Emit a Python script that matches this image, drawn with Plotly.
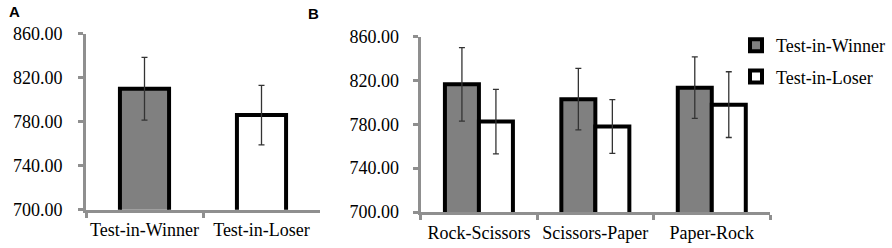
import plotly.graph_objects as go

# Panel A data
a_categories = ["Test-in-Winner", "Test-in-Loser"]
a_means = [810.0, 786.0]
a_errors = [28.5, 27.0]

# Panel B data
b_categories = ["Rock-Scissors", "Scissors-Paper", "Paper-Rock"]
b_winner = [816.5, 803.0, 813.5]
b_winner_err = [33.5, 28.0, 28.0]
b_loser = [782.5, 778.0, 798.0]
b_loser_err = [29.5, 24.5, 30.0]

y_ticks = [700, 740, 780, 820, 860]
y_ticktext = ["700.00", "740.00", "780.00", "820.00", "860.00"]

W, H = 892, 248
GRAY = "#808080"
AXIS = "#8f8f8f"
ERR = "#333333"
FONT = "Liberation Serif"

fig = go.Figure()

fig.add_trace(go.Bar(
    x=a_categories, y=a_means, xaxis="x", yaxis="y",
    width=0.42,
    marker=dict(color=[GRAY, "white"], line=dict(color="black", width=4)),
    error_y=dict(type="data", array=a_errors, color=ERR, thickness=1.3, width=3),
    showlegend=False,
))

fig.add_trace(go.Bar(
    x=b_categories, y=b_winner, xaxis="x2", yaxis="y2", name="Test-in-Winner",
    marker=dict(color=GRAY, line=dict(color="black", width=4)),
    error_y=dict(type="data", array=b_winner_err, color=ERR, thickness=1.3, width=3),
    legendgroup="w",
))
fig.add_trace(go.Bar(
    x=b_categories, y=b_loser, xaxis="x2", yaxis="y2", name="Test-in-Loser",
    marker=dict(color="white", line=dict(color="black", width=4)),
    error_y=dict(type="data", array=b_loser_err, color=ERR, thickness=1.3, width=3),
    legendgroup="l",
))

def xax(domain, anchor):
    return dict(
        domain=domain, anchor=anchor, type="category",
        showline=True, linecolor=AXIS, linewidth=3,
        ticks="outside", tickson="boundaries", ticklen=5, tickwidth=3, tickcolor=AXIS,
        showgrid=False, zeroline=False, automargin=False, tickangle=0,
        tickfont=dict(family=FONT, size=18, color="black"),
        ticklabelstandoff=2,
    )

def yax(domain, anchor, standoff):
    return dict(
        domain=domain, anchor=anchor, range=[700, 860],
        tickvals=y_ticks, ticktext=y_ticktext,
        showline=True, linecolor=AXIS, linewidth=3,
        ticks="outside", ticklen=5, tickwidth=3, tickcolor=AXIS,
        showgrid=False, zeroline=False, automargin=False,
        tickfont=dict(family=FONT, size=18, color="black"),
        ticklabelstandoff=standoff,
    )

fig.update_layout(
    width=W, height=H,
    margin=dict(l=0, r=0, t=0, b=0),
    paper_bgcolor="white", plot_bgcolor="white",
    font=dict(family=FONT),
    barmode="group", bargap=0.416, bargroupgap=0,
    xaxis=xax([86 / W, 320 / W], "y"),
    yaxis=yax([1 - 209.7 / H, 1 - 33.7 / H], "x", 12),
    xaxis2=xax([420.7 / W, 770 / W], "y2"),
    yaxis2=yax([1 - 212 / H, 1 - 36.7 / H], "x2", 10),
    legend=dict(
        x=736 / W, y=1 - 27 / H, xanchor="left", yanchor="top",
        font=dict(family=FONT, size=18, color="black"),
        itemwidth=30, traceorder="grouped", tracegroupgap=5,
        bgcolor="rgba(0,0,0,0)",
    ),
    annotations=[
        dict(text="<b>A</b>", x=7 / W, y=1 - 12 / H, xref="paper", yref="paper",
             xanchor="left", yanchor="middle", showarrow=False,
             font=dict(family="Liberation Sans", size=15, color="black")),
        dict(text="<b>B</b>", x=306 / W, y=1 - 14 / H, xref="paper", yref="paper",
             xanchor="left", yanchor="middle", showarrow=False,
             font=dict(family="Liberation Sans", size=15, color="black")),
    ],
)

fig.write_html(
    "out.html",
    config={"displayModeBar": False},
    post_script="document.body.style.margin='0';document.body.style.padding='0';",
)
